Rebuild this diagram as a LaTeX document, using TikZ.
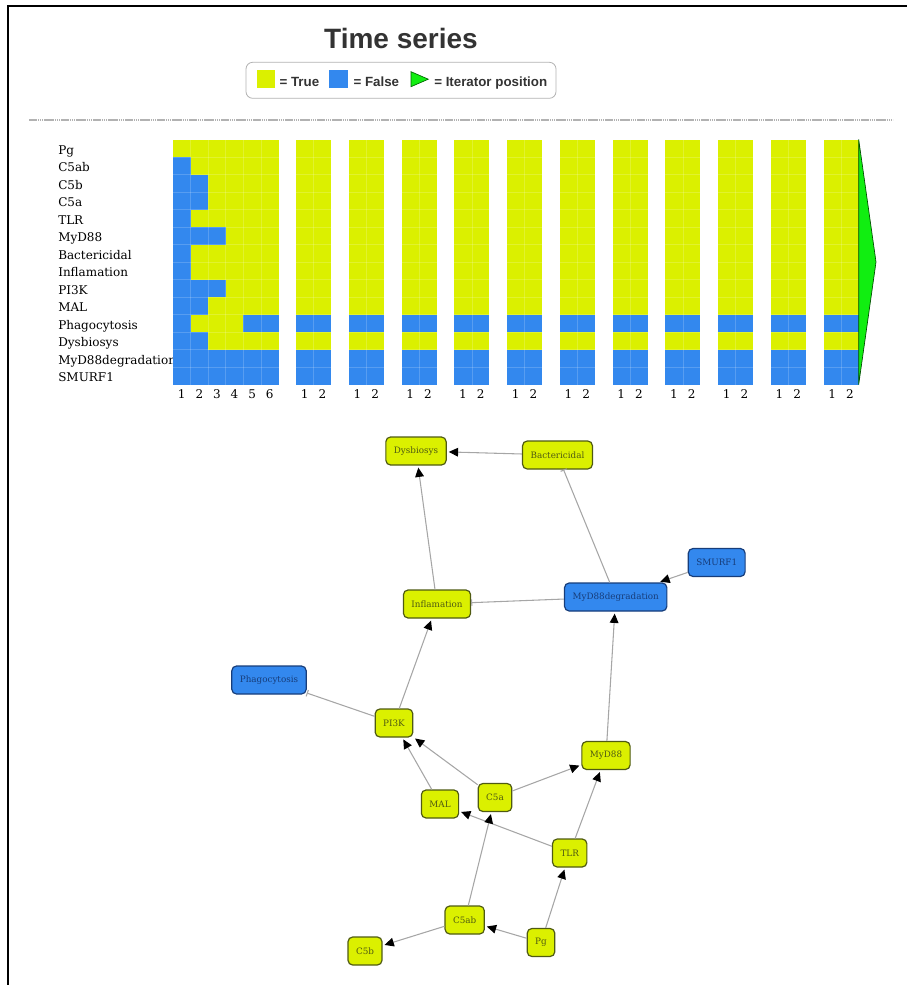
\documentclass[tikz,border=0pt]{standalone}
\usepackage{fontspec}
\setmainfont{DejaVu Serif}
\newfontfamily\headfont{Liberation Sans}
\usetikzlibrary{arrows.meta}
\definecolor{cellyellow}{HTML}{DBF000}
\definecolor{cellblue}{HTML}{3388EE}
\definecolor{itergreen}{HTML}{11EE11}
\definecolor{darkolive}{HTML}{4F5A12}
\definecolor{darknavy}{HTML}{173D7A}
\definecolor{textgray}{HTML}{333333}
\definecolor{edgegray}{HTML}{A6A6A6}
\begin{document}
\begin{tikzpicture}[
        x=0.75pt, y=-0.75pt,
        true cell/.style={fill=cellyellow},
        false cell/.style={fill=cellblue},
        cell line/.style={draw=white, opacity=0.18, line width=0.4pt},
        row label/.style={anchor=base west, inner sep=0pt, font=\fontsize{9}{10}\selectfont},
        col label/.style={anchor=base, inner sep=0pt, font=\fontsize{9}{10}\selectfont},
        legend text/.style={anchor=base west, inner sep=0pt, text=textgray, font=\headfont\bfseries\fontsize{10}{12}\selectfont},
        gene on/.style={draw=darkolive, fill=cellyellow, text=darkolive, rounded corners=3.5pt, line width=0.9pt, minimum height=21pt, inner xsep=6pt, inner ysep=0pt, font=\fontsize{6.6}{7.5}\selectfont},
        gene off/.style={gene on, draw=darknavy, fill=cellblue, text=darknavy},
        act edge/.style={draw=edgegray, line width=0.8pt, -{Triangle[length=7pt, width=6.5pt, color=black]}, shorten >=1.5pt},
        inh edge/.style={draw=edgegray, line width=0.8pt, -{Bar[width=5pt]}}
    ]
	\useasboundingbox (0,0) rectangle (907,985);
	\draw[black, line width=1.5pt] (8,985) -- (8,6) -- (907,6);
	% header
	\node[anchor=base, inner sep=0pt, text=textgray, font=\headfont\bfseries\fontsize{21}{24}\selectfont] (title) at (401,48.3) {Time series};
	\draw[rounded corners=5pt, gray!60, line width=0.6pt] (246,62.3) rectangle (556,98.3);
	\fill[true cell] (257.3,70) rectangle (275,87.7);
	\node[legend text] (leg_true) at (279.3,86.5) {= True};
	\fill[false cell] (329.3,70) rectangle (347.7,87.7);
	\node[legend text] (leg_false) at (353.3,86.5) {= False};
	\filldraw[fill=itergreen, draw=green!40!black, line width=0.5pt] (411,71.7) -- (428.3,79.2) -- (411,86.7) -- cycle;
	\node[legend text] (leg_iter) at (434,86.5) {= Iterator position};
	\draw[gray!60, dash pattern=on 1.2pt off 0.4pt, line width=1pt] (29,120) -- (893,120);
	% row labels
	\node[row label] (r_0) at (58,154.25) {Pg};
	\node[row label] (r_1) at (58,171.75) {C5ab};
	\node[row label] (r_2) at (58,189.25) {C5b};
	\node[row label] (r_3) at (58,206.75) {C5a};
	\node[row label] (r_4) at (58,224.25) {TLR};
	\node[row label] (r_5) at (58,241.75) {MyD88};
	\node[row label] (r_6) at (58,259.25) {Bactericidal};
	\node[row label] (r_7) at (58,276.75) {Inflamation};
	\node[row label] (r_8) at (58,294.25) {PI3K};
	\node[row label] (r_9) at (58,311.75) {MAL};
	\node[row label] (r_10) at (58,329.25) {Phagocytosis};
	\node[row label] (r_11) at (58,346.75) {Dysbiosys};
	\node[row label] (r_12) at (58,364.25) {MyD88degradation};
	\node[row label] (r_13) at (58,381.75) {SMURF1};
	% first run, steps 1-6
	\fill[true cell] (173,139.5) rectangle (278.5,384.5);
	\fill[false cell] (173,157) rectangle (190.6,384.5);
	\fill[false cell] (190.6,174.5) rectangle (208.2,209.5);
	\fill[false cell] (190.6,227) rectangle (225.7,244.5);
	\fill[false cell] (190.6,279.5) rectangle (225.7,297);
	\fill[false cell] (190.6,297) rectangle (208.2,314.5);
	\fill[false cell] (190.6,332) rectangle (208.2,349.5);
	\fill[false cell] (243.3,314.5) rectangle (278.5,332);
	\fill[false cell] (190.6,349.5) rectangle (278.5,384.5);
	\node[col label] (c0_1) at (181.8,398.3) {1};
	\node[col label] (c0_2) at (199.4,398.3) {2};
	\node[col label] (c0_3) at (217,398.3) {3};
	\node[col label] (c0_4) at (234.5,398.3) {4};
	\node[col label] (c0_5) at (252.1,398.3) {5};
	\node[col label] (c0_6) at (269.7,398.3) {6};
	% following runs, steps 1-2
	\fill[true cell] (296,139.5) rectangle (331.2,384.5);
	\fill[false cell] (296,314.5) rectangle (331.2,332);
	\fill[false cell] (296,349.5) rectangle (331.2,384.5);
	\node[col label] (c1_1) at (304.8,398.3) {1};
	\node[col label] (c1_2) at (322.4,398.3) {2};
	\fill[true cell] (348.75,139.5) rectangle (383.95,384.5);
	\fill[false cell] (348.75,314.5) rectangle (383.95,332);
	\fill[false cell] (348.75,349.5) rectangle (383.95,384.5);
	\node[col label] (c2_1) at (357.55,398.3) {1};
	\node[col label] (c2_2) at (375.15,398.3) {2};
	\fill[true cell] (401.5,139.5) rectangle (436.7,384.5);
	\fill[false cell] (401.5,314.5) rectangle (436.7,332);
	\fill[false cell] (401.5,349.5) rectangle (436.7,384.5);
	\node[col label] (c3_1) at (410.3,398.3) {1};
	\node[col label] (c3_2) at (427.9,398.3) {2};
	\fill[true cell] (454.25,139.5) rectangle (489.45,384.5);
	\fill[false cell] (454.25,314.5) rectangle (489.45,332);
	\fill[false cell] (454.25,349.5) rectangle (489.45,384.5);
	\node[col label] (c4_1) at (463.05,398.3) {1};
	\node[col label] (c4_2) at (480.65,398.3) {2};
	\fill[true cell] (507,139.5) rectangle (542.2,384.5);
	\fill[false cell] (507,314.5) rectangle (542.2,332);
	\fill[false cell] (507,349.5) rectangle (542.2,384.5);
	\node[col label] (c5_1) at (515.8,398.3) {1};
	\node[col label] (c5_2) at (533.4,398.3) {2};
	\fill[true cell] (559.75,139.5) rectangle (594.95,384.5);
	\fill[false cell] (559.75,314.5) rectangle (594.95,332);
	\fill[false cell] (559.75,349.5) rectangle (594.95,384.5);
	\node[col label] (c6_1) at (568.55,398.3) {1};
	\node[col label] (c6_2) at (586.15,398.3) {2};
	\fill[true cell] (612.5,139.5) rectangle (647.7,384.5);
	\fill[false cell] (612.5,314.5) rectangle (647.7,332);
	\fill[false cell] (612.5,349.5) rectangle (647.7,384.5);
	\node[col label] (c7_1) at (621.3,398.3) {1};
	\node[col label] (c7_2) at (638.9,398.3) {2};
	\fill[true cell] (665.25,139.5) rectangle (700.45,384.5);
	\fill[false cell] (665.25,314.5) rectangle (700.45,332);
	\fill[false cell] (665.25,349.5) rectangle (700.45,384.5);
	\node[col label] (c8_1) at (674.05,398.3) {1};
	\node[col label] (c8_2) at (691.65,398.3) {2};
	\fill[true cell] (718,139.5) rectangle (753.2,384.5);
	\fill[false cell] (718,314.5) rectangle (753.2,332);
	\fill[false cell] (718,349.5) rectangle (753.2,384.5);
	\node[col label] (c9_1) at (726.8,398.3) {1};
	\node[col label] (c9_2) at (744.4,398.3) {2};
	\fill[true cell] (770.75,139.5) rectangle (805.95,384.5);
	\fill[false cell] (770.75,314.5) rectangle (805.95,332);
	\fill[false cell] (770.75,349.5) rectangle (805.95,384.5);
	\node[col label] (c10_1) at (779.55,398.3) {1};
	\node[col label] (c10_2) at (797.15,398.3) {2};
	\fill[true cell] (823.5,139.5) rectangle (858.7,384.5);
	\fill[false cell] (823.5,314.5) rectangle (858.7,332);
	\fill[false cell] (823.5,349.5) rectangle (858.7,384.5);
	\node[col label] (c11_1) at (832.3,398.3) {1};
	\node[col label] (c11_2) at (849.9,398.3) {2};
	% faint cell lines
	\draw[cell line] (173,157) -- (858.7,157);
	\draw[cell line] (173,174.5) -- (858.7,174.5);
	\draw[cell line] (173,192) -- (858.7,192);
	\draw[cell line] (173,209.5) -- (858.7,209.5);
	\draw[cell line] (173,227) -- (858.7,227);
	\draw[cell line] (173,244.5) -- (858.7,244.5);
	\draw[cell line] (173,262) -- (858.7,262);
	\draw[cell line] (173,279.5) -- (858.7,279.5);
	\draw[cell line] (173,297) -- (858.7,297);
	\draw[cell line] (173,314.5) -- (858.7,314.5);
	\draw[cell line] (173,332) -- (858.7,332);
	\draw[cell line] (173,349.5) -- (858.7,349.5);
	\draw[cell line] (173,367) -- (858.7,367);
	\draw[cell line] (190.6,139.5) -- (190.6,384.5);
	\draw[cell line] (208.2,139.5) -- (208.2,384.5);
	\draw[cell line] (225.7,139.5) -- (225.7,384.5);
	\draw[cell line] (243.3,139.5) -- (243.3,384.5);
	\draw[cell line] (260.9,139.5) -- (260.9,384.5);
	\draw[cell line] (313.6,139.5) -- (313.6,384.5);
	\draw[cell line] (366.35,139.5) -- (366.35,384.5);
	\draw[cell line] (419.1,139.5) -- (419.1,384.5);
	\draw[cell line] (471.85,139.5) -- (471.85,384.5);
	\draw[cell line] (524.6,139.5) -- (524.6,384.5);
	\draw[cell line] (577.35,139.5) -- (577.35,384.5);
	\draw[cell line] (630.1,139.5) -- (630.1,384.5);
	\draw[cell line] (682.85,139.5) -- (682.85,384.5);
	\draw[cell line] (735.6,139.5) -- (735.6,384.5);
	\draw[cell line] (788.35,139.5) -- (788.35,384.5);
	\draw[cell line] (841.1,139.5) -- (841.1,384.5);
	% iterator position
	\fill[itergreen] (858.7,139.5) -- (876,262) -- (858.7,384.5) -- cycle;
	\draw[green!30!black, line width=0.5pt] (876,262) -- (858.7,139.5) -- (858.7,384.5) -- (876,262);
	% network
	\node[gene on] (dysb) at (416,451) {Dysbiosys};
	\node[gene on] (bact) at (557.5,455) {Bactericidal};
	\node[gene on] (infl) at (437,604) {Inflamation};
	\node[gene off] (mdeg) at (615.7,597) {MyD88degradation};
	\node[gene off] (smurf) at (716.7,562.5) {SMURF1};
	\node[gene on] (myd88) at (606,755.5) {MyD88};
	\node[gene off] (phago) at (269,680) {Phagocytosis};
	\node[gene on] (pi3k) at (394,723) {PI3K};
	\node[gene on] (mal) at (440,804) {MAL};
	\node[gene on] (c5a) at (495,797.5) {C5a};
	\node[gene on] (tlr) at (569.7,853) {TLR};
	\node[gene on] (c5ab) at (464.7,920) {C5ab};
	\node[gene on] (pg) at (541,942.5) {Pg};
	\node[gene on] (c5b) at (365,951) {C5b};
	\draw[act edge] (bact) -- (dysb);
	\draw[act edge] (infl) -- (dysb);
	\draw[inh edge] (mdeg) -- (bact);
	\draw[inh edge] (mdeg) -- (infl);
	\draw[act edge] (smurf) -- (mdeg);
	\draw[act edge] (myd88) -- (mdeg);
	\draw[act edge] (pi3k) -- (infl);
	\draw[inh edge] (pi3k) -- (phago);
	\draw[act edge] (mal) -- (pi3k);
	\draw[act edge] (c5a) -- (pi3k);
	\draw[act edge] (c5a) -- (myd88);
	\draw[act edge] (tlr) -- (mal);
	\draw[act edge] (tlr) -- (myd88);
	\draw[act edge] (c5ab) -- (c5a);
	\draw[act edge] (c5ab) -- (c5b);
	\draw[act edge] (pg) -- (c5ab);
	\draw[act edge] (pg) -- (tlr);
\end{tikzpicture}
\end{document}
